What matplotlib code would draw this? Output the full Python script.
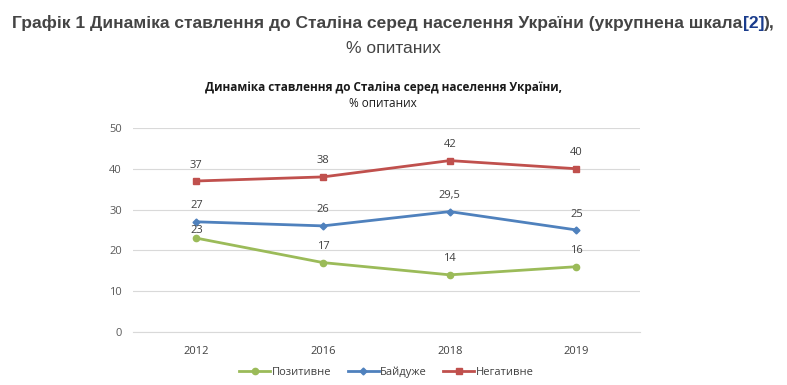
import matplotlib
matplotlib.use("Agg")
import matplotlib.pyplot as plt

# --- Data ---
years = ["2012", "2016", "2018", "2019"]
positive = [23, 17, 14, 16]
neutral = [27, 26, 29.5, 25]
negative = [37, 38, 42, 40]
series_names = ["Позитивне", "Байдуже", "Негативне"]

colors = ["#9BBB59", "#4F81BD", "#C0504D"]
markers = ["o", "D", "s"]
msizes = [4.5, 3.5, 5]

fig = plt.figure(figsize=(7.87, 3.85), dpi=100)
ax = fig.add_axes([0.169, 0.1377, 0.644, 0.53])

x = list(range(len(years)))
for vals, name, c, m, ms in zip([positive, neutral, negative], series_names, colors, markers, msizes):
    ax.plot(x, vals, color=c, lw=2, marker=m, markersize=ms, label=name)
    for i, v in enumerate(vals):
        lbl = str(v).replace(".", ",")
        off = 1.5 if (vals is positive and i == 0) else 7.5
        ax.annotate(lbl, (i, v), xytext=(0, off), textcoords="offset points",
                    ha="center", va="bottom", fontsize=8, color="#404040",
                    family="Open Sans")

ax.set_xlim(-0.5, len(years) - 0.5)
ax.set_ylim(0, 50)
ax.set_yticks(range(0, 51, 10))
ax.set_xticks(x)
ax.set_xticklabels(years)
ax.grid(axis="y", color="#D9D9D9", lw=0.8)
ax.set_axisbelow(True)
for s in ["top", "right", "left"]:
    ax.spines[s].set_visible(False)
ax.spines["bottom"].set_color("#D9D9D9")
ax.tick_params(axis="both", length=0, labelsize=8, colors="#595959", pad=8)
ax.tick_params(axis="x", colors="#404040", pad=10)
for t in ax.get_xticklabels() + ax.get_yticklabels():
    t.set_family("Open Sans")

# chart title
fig.text(0.487, 0.772, "Динаміка ставлення до Сталіна серед населення України,",
         ha="center", va="center", fontsize=8.5, fontweight="bold", color="#1a1a1a",
         family="Open Sans")
fig.text(0.487, 0.732, "% опитаних", ha="center", va="center", fontsize=8.5,
         color="#1a1a1a", family="Open Sans")

# legend
ax.legend(loc="upper center", bbox_to_anchor=(0.5, -0.12), ncol=3, frameon=False,
          prop={"family": "Open Sans", "size": 8}, handlelength=2.8,
          handletextpad=0.1, columnspacing=1.5, labelcolor="#404040")

# page heading (with blue [2] link)
fam = ["Liberation Sans Narrow", "Liberation Sans", "DejaVu Sans"]
fig.canvas.draw()
r = fig.canvas.get_renderer()
parts = [("Графік 1 Динаміка ставлення до Сталіна серед населення України (укрупнена шкала", "#444444"),
         ("[2]", "#1a3c8c"), ("),", "#444444")]
texts = []
for s, c in parts:
    texts.append(fig.text(0, 0.94, s, fontsize=12.5, fontweight="bold", color=c,
                          family=fam, va="center", ha="left"))
widths = [t.get_window_extent(r).width / fig.bbox.width for t in texts]
x0 = 0.5 - sum(widths) / 2
for t, w in zip(texts, widths):
    t.set_x(x0)
    x0 += w
fig.text(0.5, 0.875, "% опитаних", fontsize=12.5, color="#444444", family=fam,
         ha="center", va="center")

fig.savefig("out.png", dpi=100)
